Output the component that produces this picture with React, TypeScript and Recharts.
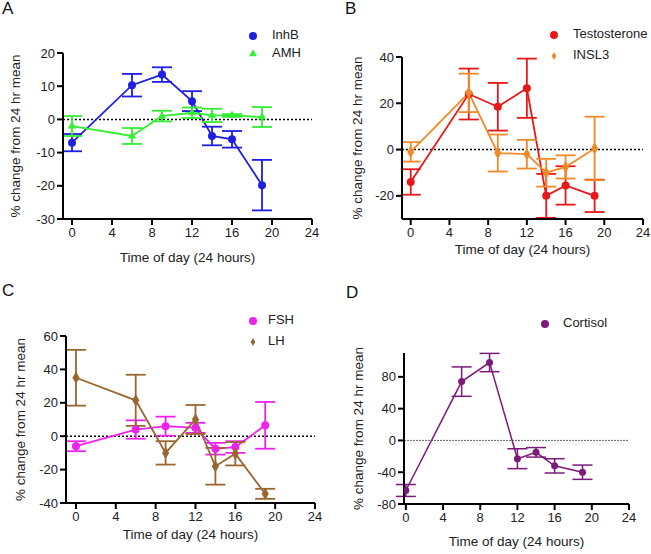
import React from 'react'
import { LineChart, Line, XAxis, YAxis, ErrorBar, ReferenceLine, Legend, Symbols } from 'recharts'

// sampling times (hours) shared by every panel
const hours = [0, 6, 9, 12, 14, 16, 19]
const xTicks = [0, 4, 8, 12, 16, 20, 24]

// A
const inhbMean = [-7, 10.3, 13.5, 5.5, -5, -6, -19.8]
const inhbErr = [2.6, 3.4, 2.2, 3, 2.8, 2.5, 7.6]
const amhMean = [-2, -5, 1, 2, 1.2, 1.2, 0.7]
const amhErr = [3, 2.4, 1.6, 1.6, 2, 0.4, 3]

// B
const testoMean = [-14, 24, 18.5, 26.5, -20, -15.5, -20]
const testoErr = [5.5, 11, 10.3, 12.8, 9.5, 8.3, 7]
const insl3Mean = [-1, 24.5, -1.5, -2, -10, -7.5, 0.5]
const insl3Err = [4.2, 8.3, 8, 6.2, 6, 5, 13.7]

// C
const fshMean = [-6, 4, 6, 5, -7.5, -6.5, 6.5]
const fshErr = [3, 5.5, 5.7, 3, 3.5, 3.5, 14]
const lhMean = [35, 21.5, -10, 10, -18, -10.5, -34.5]
const lhErr = [16.7, 15.3, 7, 8.7, 11, 7, 3]

// D
const cortMean = [-63, 74, 98, -23, -15, -32, -40]
const cortErr = [7.5, 18.5, 11.5, 12.5, 6, 9, 9]

type Shape = 'circle' | 'triangle' | 'diamond'

interface Series {
  name: string
  mean: number[]
  err: number[]
  color: string
  shape: Shape
}

interface PanelProps {
  letter: string
  series: Series[]
  yDomain: [number, number]
  yTicks: number[]
  xMin: number
  x: number
  y: number
  w: number
  h: number
  labelX: number
  axisX: number
  top: number
  right: number
  bottom: number
  xLabelOffset: number
  legendLeft: number
  legendTop: number
  legendLine: number
  legendPad: number
  letterX: number
  letterY: number
  dotR?: number
  lineW?: number
  refColor?: string
  refDash?: string
  refWidth?: number
}

const tickStyle = { fill: '#222', fontSize: 13 }

function makeDot(color: string, shape: Shape, r: number) {
  if (shape === 'circle') return { r, fill: color, stroke: color, strokeWidth: 0 }
  return (p: any) => (
    <Symbols
      key={`dot-${p.index}`}
      cx={p.cx}
      cy={p.cy}
      type={shape}
      size={shape === 'triangle' ? 30 : 44}
      fill={color}
    />
  )
}

function Panel(props: PanelProps) {
  const { series } = props
  const data = hours.map((hr, i) => {
    const row: any = { hour: hr }
    series.forEach((s, k) => {
      row[`v${k}`] = s.mean[i]
      row[`e${k}`] = s.err[i]
    })
    return row
  })
  const lineW = props.lineW || 1.8

  return (
    <div style={{ position: 'absolute', left: props.x, top: props.y, width: props.w, height: props.h }}>
      <div style={{ position: 'absolute', left: props.letterX, top: props.letterY, fontSize: 17, lineHeight: '17px', color: '#111' }}>
        {props.letter}
      </div>
      <LineChart
        width={props.w}
        height={props.h}
        data={data}
        margin={{ top: props.top, right: props.w - props.right, bottom: 0, left: props.labelX }}
      >
        <XAxis
          dataKey="hour"
          type="number"
          domain={[props.xMin, 24]}
          ticks={xTicks}
          allowDataOverflow
          height={props.h - props.bottom}
          axisLine={{ stroke: '#000', strokeWidth: 2 }}
          tickLine={{ stroke: '#000', strokeWidth: 2 }}
          tickSize={6}
          tickMargin={3}
          tick={tickStyle}
          interval={0}
          label={{ value: 'Time of day (24 hours)', position: 'insideBottom', offset: props.xLabelOffset, fill: '#222', fontSize: 13.5 }}
        />
        <YAxis
          type="number"
          domain={props.yDomain}
          ticks={props.yTicks}
          allowDataOverflow
          width={props.axisX - props.labelX}
          axisLine={{ stroke: '#000', strokeWidth: 2 }}
          tickLine={{ stroke: '#000', strokeWidth: 2 }}
          tickSize={6}
          tickMargin={2}
          tick={tickStyle}
          interval={0}
          label={{
            value: '% change from 24 hr mean',
            angle: -90,
            position: 'insideLeft',
            offset: 0,
            fill: '#222',
            fontSize: 13.5,
            style: { textAnchor: 'middle' },
          }}
        />
        <ReferenceLine
          y={0}
          stroke={props.refColor || '#000'}
          strokeDasharray={props.refDash || '2 2'}
          strokeWidth={props.refWidth || 1.5}
        />
        <Legend
          layout="vertical"
          align="center"
          verticalAlign="middle"
          iconSize={8}
          itemSorter="dataKey"
          wrapperStyle={{
            left: props.legendLeft,
            top: props.legendTop,
            fontSize: 13,
            lineHeight: `${props.legendLine}px`,
          }}
          formatter={(v: any) => <span style={{ color: '#222', paddingLeft: props.legendPad }}>{v}</span>}
        />
        {series.map((s, k) => (
          <Line
            key={s.name}
            name={s.name}
            dataKey={`v${k}`}
            type="linear"
            stroke={s.color}
            strokeWidth={lineW}
            dot={makeDot(s.color, s.shape, props.dotR || 4) as any}
            activeDot={false}
            legendType={s.shape}
            isAnimationActive={false}
          >
            <ErrorBar dataKey={`e${k}`} direction="y" width={10} strokeWidth={lineW} stroke={s.color} />
          </Line>
        ))}
      </LineChart>
    </div>
  )
}

export default function App() {
  return (
    <div
      style={{
        position: 'absolute',
        left: 0,
        top: 0,
        width: 651,
        height: 554,
        background: '#fff',
        fontFamily: '"Liberation Sans", Arial, sans-serif',
      }}
    >
      <Panel
        letter="A"
        series={[
          { name: 'InhB', mean: inhbMean, err: inhbErr, color: '#1f1fe0', shape: 'circle' },
          { name: 'AMH', mean: amhMean, err: amhErr, color: '#33ee33', shape: 'triangle' },
        ]}
        yDomain={[-30, 20]}
        yTicks={[-30, -20, -10, 0, 10, 20]}
        xMin={-0.9}
        x={0}
        y={0}
        w={325}
        h={277}
        labelX={15}
        axisX={63}
        top={53}
        right={312}
        bottom={219}
        xLabelOffset={15}
        legendLeft={249}
        legendTop={26}
        legendLine={18}
        legendPad={11}
        letterX={2}
        letterY={0}
      />
      <Panel
        letter="B"
        series={[
          { name: 'Testosterone', mean: testoMean, err: testoErr, color: '#e81818', shape: 'circle' },
          { name: 'INSL3', mean: insl3Mean, err: insl3Err, color: '#f08a28', shape: 'diamond' },
        ]}
        yDomain={[-30, 40]}
        yTicks={[-20, 0, 20, 40]}
        xMin={-0.9}
        x={325}
        y={0}
        w={326}
        h={277}
        labelX={32}
        axisX={77}
        top={57}
        right={318}
        bottom={219}
        xLabelOffset={23}
        legendLeft={225}
        legendTop={23}
        legendLine={21}
        legendPad={11}
        letterX={20}
        letterY={0}
      />
      <Panel
        letter="C"
        series={[
          { name: 'FSH', mean: fshMean, err: fshErr, color: '#ee22ee', shape: 'circle' },
          { name: 'LH', mean: lhMean, err: lhErr, color: '#9a6630', shape: 'diamond' },
        ]}
        yDomain={[-40, 60]}
        yTicks={[-40, -20, 0, 20, 40, 60]}
        xMin={-1}
        x={0}
        y={277}
        w={325}
        h={277}
        labelX={20}
        axisX={66}
        top={59}
        right={315}
        bottom={226}
        xLabelOffset={15}
        legendLeft={249}
        legendTop={32}
        legendLine={21}
        legendPad={7}
        letterX={2}
        letterY={5}
      />
      <Panel
        letter="D"
        series={[{ name: 'Cortisol', mean: cortMean, err: cortErr, color: '#7b1a7b', shape: 'circle' }]}
        yDomain={[-80, 110]}
        yTicks={[-80, -40, 0, 40, 80]}
        xMin={-0.2}
        x={325}
        y={277}
        w={326}
        h={277}
        labelX={33}
        axisX={79}
        top={76}
        right={304}
        bottom={227}
        xLabelOffset={8}
        legendLeft={216}
        legendTop={36}
        legendLine={20}
        legendPad={10}
        letterX={21}
        letterY={7}
        dotR={3.5}
        lineW={1.5}
        refColor="#666"
        refDash="2 1"
        refWidth={1}
      />
    </div>
  )
}
